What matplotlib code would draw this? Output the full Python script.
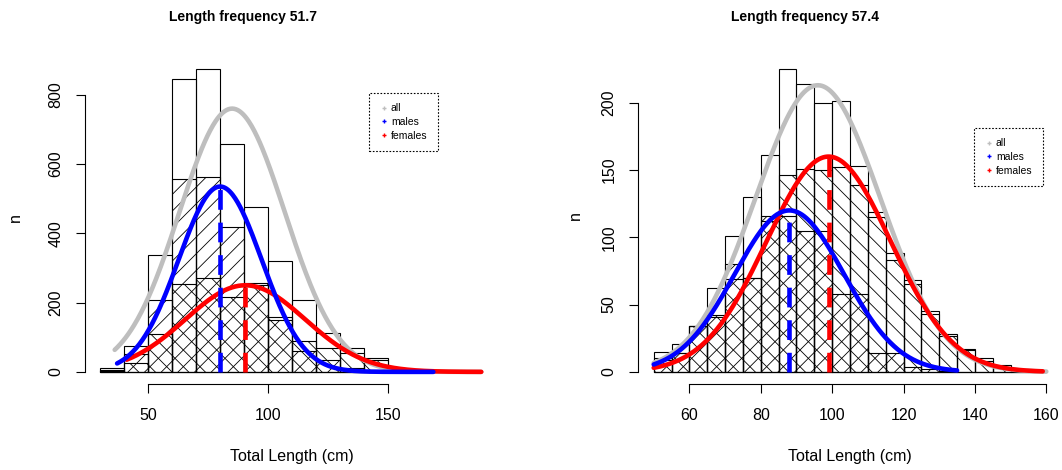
import numpy as np
import matplotlib
matplotlib.use("Agg")
import matplotlib.pyplot as plt
from matplotlib.lines import Line2D

plt.rcParams['font.family'] = ['Liberation Sans', 'DejaVu Sans']
plt.rcParams['hatch.linewidth'] = 0.6
plt.rcParams['hatch.color'] = '#333333'

# ---- left panel: Length frequency 51.7 (10 cm bins) ----
left_breaks = [30, 40, 50, 60, 70, 80, 90, 100, 110, 120, 130, 140, 150]
left_all = [10, 75, 338, 846, 874, 657, 476, 319, 208, 111, 69, 40]
left_males = [5, 51, 208, 558, 563, 418, 252, 150, 60, 35, 12, 5]
left_females = [3, 27, 109, 254, 272, 215, 256, 157, 90, 70, 54, 34]
# normal curves: mean, sd, peak height, from, to
left_curve_all = (85, 22, 760, 36, 189)
left_curve_males = (80, 17.3, 535, 37, 169)
left_curve_females = (90.5, 25, 250, 41, 189)

# ---- right panel: Length frequency 57.4 (5 cm bins) ----
right_breaks = list(range(50, 161, 5))
right_all = [15, 21, 34, 62, 101, 130, 161, 225, 214, 200, 201, 153,
             119, 88, 68, 45, 28, 17, 10, 5, 2, 1]
right_males = [9, 14, 34, 41, 80, 70, 116, 116, 105, 105, 58, 58,
               14, 14, 4, 2, 1, 0, 0, 0, 0, 0]
right_females = [10, 14, 34, 42, 69, 70, 112, 146, 151, 150, 152, 139,
                 115, 83, 65, 43, 27, 16, 8, 3, 1, 1]
right_curve_all = (96, 17.5, 213, 50, 160)
right_curve_males = (88, 15.3, 120, 50, 135)
right_curve_females = (99, 17.4, 160, 50, 159)

W, H = 1062, 470
fig = plt.figure(figsize=(W / 100, H / 100), dpi=100)


def curve(ax, params, color, z):
    mu, sd, peak, lo, hi = params
    x = np.linspace(lo, hi, 400)
    y = peak * np.exp(-0.5 * ((x - mu) / sd) ** 2)
    ax.plot(x, y, color=color, lw=3.3, solid_capstyle='round', zorder=z)


def mean_line(ax, params, color):
    mu, sd, peak, lo, hi = params
    ax.plot([mu, mu], [0, peak], color=color, lw=3.3,
            dashes=(4.3, 2.8), dash_capstyle='butt', zorder=6)


def panel(ax, breaks, n_all, n_m, n_f, c_all, c_m, c_f, xlim, xb, xt, yb, yt):
    breaks = np.array(breaks)
    mids = (breaks[:-1] + breaks[1:]) / 2
    w = breaks[1] - breaks[0]
    ax.bar(mids, n_all, width=w, facecolor='none', edgecolor='black', lw=0.8, zorder=2)
    ax.bar(mids, n_m, width=w, facecolor='none', edgecolor='black', lw=0.8,
           hatch='//', zorder=2)
    ax.bar(mids, n_f, width=w, facecolor='none', edgecolor='black', lw=0.8,
           hatch='\\\\', zorder=2)
    curve(ax, c_all, '#BEBEBE', 3)
    curve(ax, c_f, '#FF0000', 4)
    curve(ax, c_m, '#0000FF', 5)
    mean_line(ax, c_m, '#0000FF')
    mean_line(ax, c_f, '#FF0000')

    ymax = max(n_all)
    ax.set_xlim(*xlim)
    ax.set_ylim(-0.04 * ymax, 1.04 * ymax)
    for s in ['top', 'right']:
        ax.spines[s].set_visible(False)
    ax.spines['left'].set_bounds(*yb)
    ax.spines['bottom'].set_bounds(*xb)
    ax.set_xticks(xt)
    ax.set_yticks(yt)
    ax.tick_params(length=6.5, width=0.8, labelsize=11.5)
    ax.tick_params(axis='x', pad=11)
    ax.tick_params(axis='y', pad=9)
    for lbl in ax.get_yticklabels():
        lbl.set_rotation(90)
        lbl.set_va('center')


def legend(ax, x, y):
    handles = [Line2D([], [], ls='none', marker='+', ms=3, mew=1, color=c)
               for c in ['#BEBEBE', '#0000FF', '#FF0000']]
    leg = ax.legend(handles, ['all', 'males', 'females'], loc='upper left',
                    bbox_to_anchor=(x / W, 1 - y / H), bbox_transform=fig.transFigure,
                    fontsize=7.5, fancybox=False, edgecolor='black', framealpha=1,
                    handlelength=0.8, handletextpad=0.3, borderpad=1.0,
                    labelspacing=0.35, borderaxespad=0)
    leg.get_frame().set_linestyle((0, (1.5, 1.5)))
    leg.get_frame().set_linewidth(0.8)
    leg.set_zorder(10)


ax1 = fig.add_axes([85 / W, (H - 384) / H, (499 - 85) / W, (384 - 57) / H])
panel(ax1, left_breaks, left_all, left_males, left_females,
      left_curve_all, left_curve_males, left_curve_females,
      (23.6, 196.4), (50, 150), [50, 100, 150], (0, 800), [0, 200, 400, 600, 800])
legend(ax1, 369, 93)

ax2 = fig.add_axes([638 / W, (H - 384) / H, (1062 - 638) / W, (384 - 57) / H])
panel(ax2, right_breaks, right_all, right_males, right_females,
      right_curve_all, right_curve_males, right_curve_females,
      (45.6, 164.4), (60, 160), [60, 80, 100, 120, 140, 160], (0, 200),
      [0, 50, 100, 150, 200])
legend(ax2, 974, 128)

fig.text(292 / W, 1 - 456 / H, 'Total Length (cm)', ha='center', va='center', fontsize=11.5)
fig.text(850 / W, 1 - 456 / H, 'Total Length (cm)', ha='center', va='center', fontsize=11.5)
fig.text(15 / W, 1 - 218 / H, 'n', ha='center', va='center', rotation=90, fontsize=11.5)
fig.text(575 / W, 1 - 216 / H, 'n', ha='center', va='center', rotation=90, fontsize=11.5)

fig.text(243 / W, 1 - 17 / H, 'Length frequency 51.7', ha='center', va='center',
         fontsize=10, fontweight='bold')
fig.text(805 / W, 1 - 17 / H, 'Length frequency 57.4', ha='center', va='center',
         fontsize=10, fontweight='bold')

fig.savefig('out.png', dpi=100)
